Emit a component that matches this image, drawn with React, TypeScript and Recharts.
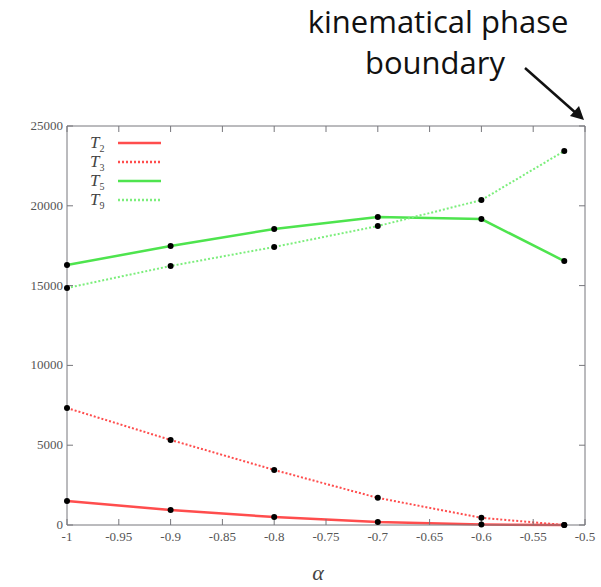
import {
  LineChart,
  Line,
  XAxis,
  YAxis,
} from "recharts";

const alphas = [-1, -0.9, -0.8, -0.7, -0.6, -0.52];
const t2 = [1500, 940, 500, 190, 30, 0];
const t3 = [7330, 5330, 3450, 1700, 450, 0];
const t5 = [16290, 17480, 18550, 19300, 19170, 16540];
const t9 = [14850, 16230, 17420, 18730, 20360, 23430];

const xTicks = [-1, -0.95, -0.9, -0.85, -0.8, -0.75, -0.7, -0.65, -0.6, -0.55, -0.5];
const yTicks = [0, 5000, 10000, 15000, 20000, 25000];

const RED = "#ff4d4d";
const GREEN = "#4ee44e";
const GREEN_LIGHT = "#7cee7c";
const AXIS = "#77777c";
const serif = "'Liberation Serif', 'DejaVu Serif', serif";

const data = alphas.map((a, i) => ({ a, t2: t2[i], t3: t3[i], t5: t5[i], t9: t9[i] }));

const legendItems = [
  { sub: "2", color: RED, dash: undefined },
  { sub: "3", color: RED, dash: "2 2" },
  { sub: "5", color: GREEN, dash: undefined },
  { sub: "9", color: GREEN_LIGHT, dash: "2 2" },
];

const dotStyle = { r: 3, fill: "#000", stroke: "none" };

function XTick(props: any) {
  const { x, y, payload } = props;
  return (
    <text x={x} y={y + 20} textAnchor="middle" fontFamily={serif} fontSize={13} fill="#555">
      {String(payload.value)}
    </text>
  );
}

function YTick(props: any) {
  const { x, y, payload } = props;
  return (
    <text x={x - 8} y={y + 4} textAnchor="end" fontFamily={serif} fontSize={13} fill="#555">
      {String(payload.value)}
    </text>
  );
}

export default function App() {
  return (
    <div style={{ position: "absolute", left: 0, top: 0, width: 601, height: 587, background: "#fff" }}>
      <LineChart
        width={601}
        height={587}
        data={data}
        margin={{ top: 125, right: 15, left: 0, bottom: 0 }}
      >
        <XAxis
          dataKey="a"
          type="number"
          domain={[-1, -0.5]}
          ticks={xTicks}
          height={62}
          stroke={AXIS}
          tickSize={-6}
          tick={<XTick />}
        />
        <XAxis
          xAxisId="top"
          orientation="top"
          dataKey="a"
          type="number"
          domain={[-1, -0.5]}
          ticks={xTicks}
          height={1}
          stroke={AXIS}
          tickSize={-6}
          tick={() => <g />}
        />
        <YAxis
          type="number"
          domain={[0, 25000]}
          ticks={yTicks}
          width={67}
          stroke={AXIS}
          tickSize={-6}
          tick={<YTick />}
        />
        <YAxis
          yAxisId="right"
          orientation="right"
          type="number"
          domain={[0, 25000]}
          ticks={yTicks}
          width={1}
          stroke={AXIS}
          tickSize={-6}
          tick={() => <g />}
        />
        <Line xAxisId="top" yAxisId="right" dataKey="t5" stroke="none" dot={false} activeDot={false} legendType="none" isAnimationActive={false} />
        <Line dataKey="t2" stroke={RED} strokeWidth={2.5} dot={dotStyle} isAnimationActive={false} />
        <Line dataKey="t3" stroke={RED} strokeWidth={2} strokeDasharray="2 2" dot={dotStyle} isAnimationActive={false} />
        <Line dataKey="t5" stroke={GREEN} strokeWidth={2.5} dot={dotStyle} isAnimationActive={false} />
        <Line dataKey="t9" stroke={GREEN_LIGHT} strokeWidth={2} strokeDasharray="2 2" dot={dotStyle} isAnimationActive={false} />
      </LineChart>
      <svg width={601} height={587} style={{ position: "absolute", left: 0, top: 0, pointerEvents: "none" }}>
        {legendItems.map((it, i) => (
          <g key={it.sub} transform={`translate(74, ${i * 19 + 143})`}>
            <text x={16} y={5} fontFamily={serif} fontStyle="italic" fontSize={17} fill="#444">
              T
              <tspan fontSize={10} dy={4} fontStyle="normal">
                {it.sub}
              </tspan>
            </text>
            <line x1={44} x2={87} y1={0} y2={0} stroke={it.color} strokeWidth={2.5} strokeDasharray={it.dash} />
          </g>
        ))}
        <text x={438} y={33} textAnchor="middle" fontFamily="'Open Sans', sans-serif" fontSize={31} fill="#111">
          kinematical phase
        </text>
        <text x={435} y={74} textAnchor="middle" fontFamily="'Open Sans', sans-serif" fontSize={31} fill="#111">
          boundary
        </text>
        <line x1={525} y1={68} x2={577} y2={114} stroke="#111" strokeWidth={2.5} />
        <polygon points="584,120 570,116 579,106" fill="#111" />
        <text x={318} y={580} textAnchor="middle" fontFamily={serif} fontStyle="italic" fontSize={22} fill="#444">
          α
        </text>
      </svg>
    </div>
  );
}
